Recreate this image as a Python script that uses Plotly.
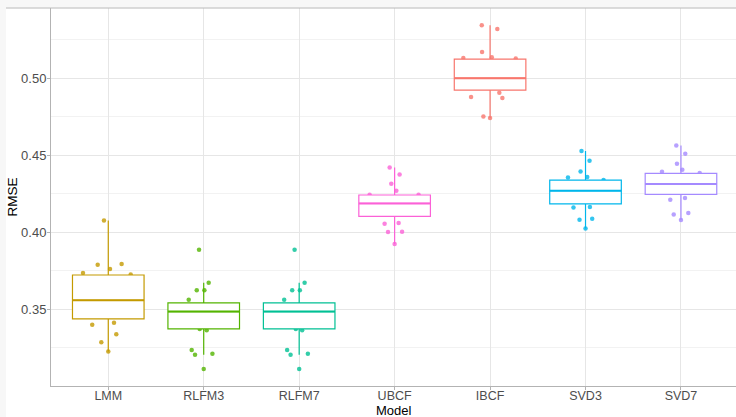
import plotly.graph_objects as go

# Models in display order
models = ["LMM", "RLFM3", "RLFM7", "UBCF", "IBCF", "SVD3", "SVD7"]
colors = ["#C49A00", "#53B400", "#00C094", "#FB61D7", "#F8766D", "#00B6EB", "#A58AFF"]

# Box summaries of RMSE per model
q1 = [0.3438, 0.3373, 0.3373, 0.4103, 0.4922, 0.4184, 0.4246]
median = [0.3559, 0.3486, 0.3486, 0.4187, 0.5000, 0.4270, 0.4313]
q3 = [0.3723, 0.3542, 0.3542, 0.4242, 0.5123, 0.4339, 0.4382]
lower = [0.3226, 0.3205, 0.3205, 0.3924, 0.4741, 0.4025, 0.4080]
upper = [0.4077, 0.3673, 0.3673, 0.4421, 0.5343, 0.4527, 0.4563]

# Individual fold RMSE values (jittered points)
lmm_rmse = [0.4077, 0.3790, 0.3762, 0.3795, 0.3736, 0.3727, 0.3400, 0.3414, 0.3339, 0.3287, 0.3226]
rlfm3_rmse = [0.3887, 0.3673, 0.3624, 0.3624, 0.3563, 0.3373, 0.3364, 0.3237, 0.3205, 0.3213, 0.3114]
rlfm7_rmse = [0.3887, 0.3673, 0.3624, 0.3624, 0.3563, 0.3373, 0.3364, 0.3237, 0.3205, 0.3213, 0.3114]
ubcf_rmse = [0.4421, 0.4375, 0.4315, 0.4270, 0.4244, 0.4244, 0.4056, 0.4060, 0.4002, 0.4004, 0.3924]
ibcf_rmse = [0.5343, 0.5318, 0.5170, 0.5136, 0.5130, 0.5127, 0.4905, 0.4877, 0.4872, 0.4751, 0.4741]
svd3_rmse = [0.4527, 0.4464, 0.4395, 0.4356, 0.4358, 0.4340, 0.4161, 0.4164, 0.4082, 0.4088, 0.4025]
svd7_rmse = [0.4563, 0.4509, 0.4445, 0.4393, 0.4406, 0.4384, 0.4211, 0.4222, 0.4116, 0.4125, 0.4080]

# Horizontal jitter of each point (category units)
lmm_jit = [-0.045, -0.111, 0.018, 0.140, -0.265, 0.235, -0.168, 0.060, 0.084, -0.073, 0.0]
rlfm3_jit = [-0.049, 0.052, -0.073, 0.007, -0.157, -0.042, 0.031, -0.126, -0.091, 0.091, 0.0]
rlfm7_jit = [-0.048, 0.057, -0.073, 0.007, -0.157, -0.035, 0.031, -0.126, -0.090, 0.091, 0.0]
ubcf_jit = [-0.052, 0.052, -0.035, 0.018, -0.262, 0.251, -0.105, 0.042, -0.069, 0.078, 0.0]
ibcf_jit = [-0.087, 0.076, -0.084, 0.018, -0.280, 0.269, 0.097, -0.199, 0.129, -0.070, 0.0]
svd3_jit = [-0.042, 0.042, -0.052, -0.184, 0.018, 0.189, -0.126, 0.046, -0.063, 0.070, 0.0]
svd7_jit = [-0.049, 0.045, -0.042, -0.199, 0.014, 0.196, -0.112, 0.042, -0.076, 0.077, 0.0]

points = [lmm_rmse, rlfm3_rmse, rlfm7_rmse, ubcf_rmse, ibcf_rmse, svd3_rmse, svd7_rmse]
jitters = [lmm_jit, rlfm3_jit, rlfm7_jit, ubcf_jit, ibcf_jit, svd3_jit, svd7_jit]

BOX_W = 0.75
fig = go.Figure()

# Jittered points on the base axes (drawn underneath the boxes)
for i, (vals, jit, col) in enumerate(zip(points, jitters, colors)):
    fig.add_trace(go.Scatter(
        x=[i + j for j in jit], y=vals, mode="markers",
        marker=dict(color=col, size=4.5, opacity=0.8, line=dict(width=0)),
        xaxis="x", yaxis="y", showlegend=False, hoverinfo="y",
    ))

# Boxes on an overlaying axis so their white fill sits on top of the points
for i, col in enumerate(colors):
    fig.add_trace(go.Box(
        x=[i], q1=[q1[i]], median=[median[i]], q3=[q3[i]],
        lowerfence=[lower[i]], upperfence=[upper[i]],
        width=BOX_W, whiskerwidth=0, fillcolor="white",
        line=dict(color=col, width=1.2), boxpoints=False,
        xaxis="x2", yaxis="y", showlegend=False, name=models[i],
    ))
    # thicker median bar
    fig.add_trace(go.Scatter(
        x=[i - BOX_W / 2, i + BOX_W / 2], y=[median[i], median[i]],
        mode="lines", line=dict(color=col, width=2),
        xaxis="x2", yaxis="y", showlegend=False, hoverinfo="skip",
    ))

W, H = 736, 417
ML, MR, MT, MB = 51, 0, 8, 31
pw, ph = W - ML - MR, H - MT - MB
xr = [-0.6, -0.6 + pw / 95.45]


def px(xp):
    return (xp - ML) / pw


def py(yp):
    return (H - MB - yp) / ph


band = "#f7f7f7"
shapes = [
    dict(type="rect", xref="paper", yref="paper", x0=px(0), x1=px(W + 2), y0=py(7.5), y1=py(-2),
         fillcolor=band, line=dict(width=0), layer="above"),
    dict(type="rect", xref="paper", yref="paper", x0=px(-2), x1=px(6), y0=py(H + 2), y1=py(-2),
         fillcolor=band, line=dict(width=0), layer="above"),
    dict(type="line", xref="paper", yref="paper", x0=px(6), x1=px(W + 2), y0=py(8), y1=py(8),
         line=dict(color="#b8b8b8", width=1.2), layer="above"),
]

fig.update_layout(
    width=W, height=H,
    margin=dict(l=ML, r=MR, t=MT, b=MB, autoexpand=False),
    paper_bgcolor="white", plot_bgcolor="white",
    boxmode="overlay",
    font=dict(family="Liberation Sans, Arial, sans-serif"),
    shapes=shapes,
    annotations=[dict(
        text="Model", xref="paper", yref="paper", x=px(394), y=py(410.5),
        xanchor="center", yanchor="middle", showarrow=False,
        font=dict(size=13, color="black"),
    )],
    xaxis=dict(
        range=xr, tickvals=list(range(len(models))), ticktext=models,
        showgrid=True, gridcolor="#e6e6e6", gridwidth=1, zeroline=False,
        showline=True, linecolor="#b3b3b3", linewidth=1,
        ticks="outside", ticklen=3, tickcolor="#b3b3b3", tickwidth=1,
        ticklabelstandoff=-5,
        tickfont=dict(size=12.5, color="#4d4d4d"),
        automargin=False,
    ),
    xaxis2=dict(range=xr, overlaying="x", visible=False, showgrid=False, zeroline=False),
    yaxis=dict(
        range=[0.3003, 0.5455], tickvals=[0.35, 0.40, 0.45, 0.50], tickformat=".2f",
        showgrid=True, gridcolor="#e6e6e6", gridwidth=1, zeroline=False,
        minor=dict(tickvals=[0.325, 0.375, 0.425, 0.475, 0.525], showgrid=True,
                   gridcolor="#f2f2f2", gridwidth=1, ticks=""),
        showline=True, linecolor="#b3b3b3", linewidth=1,
        ticks="outside", ticklen=3, tickcolor="#b3b3b3", tickwidth=1,
        ticklabelstandoff=-2,
        tickfont=dict(size=13, color="#4d4d4d"),
        title=dict(text="RMSE", font=dict(size=13.5, color="black"), standoff=0),
        automargin=False,
    ),
)

fig.write_html("out.html")
